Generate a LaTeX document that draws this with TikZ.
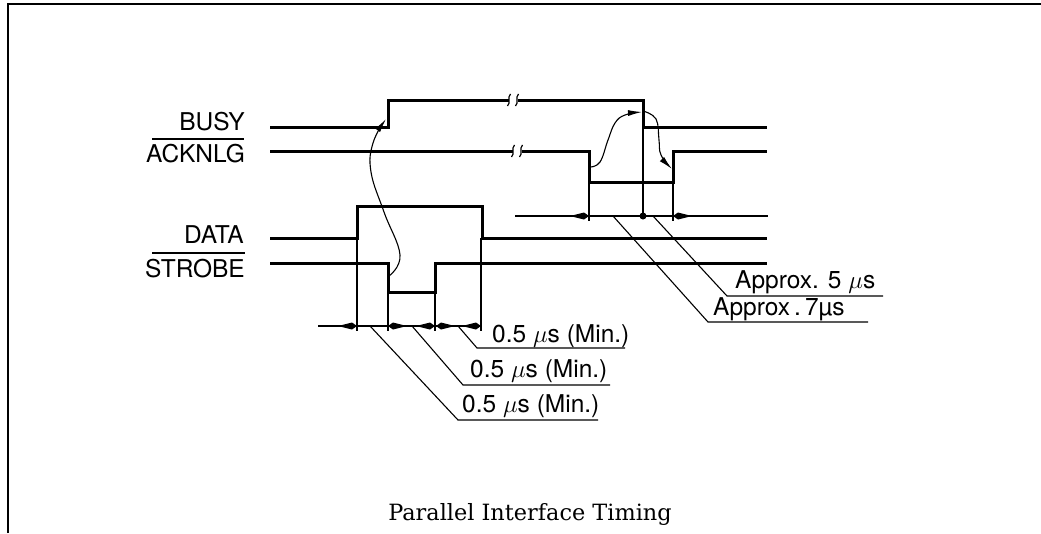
\documentclass[tikz,border=0pt]{standalone}
\usepackage{fontspec}
\setmainfont{TeX Gyre Heros}
\newfontfamily\titlefont{DejaVu Serif}
\usetikzlibrary{arrows.meta}
\begin{document}
\begin{tikzpicture}[x=1pt,y=-1pt,line join=miter,
  sig/.style={line width=3pt},
  fine/.style={line width=1.1pt},
  frame/.style={line width=1.5pt},
  curvearrow/.style={line width=1.1pt,-{Latex[length=14pt,width=6pt]}},
  headR/.pic={\fill (0,0) -- (-5,-3.5) -- (-19,0) -- (-5,3.5) -- cycle;},
  headL/.pic={\fill (0,0) -- (5,-3.5) -- (19,0) -- (5,3.5) -- cycle;},
  brk/.pic={\draw[line width=1.2pt] (1.5,-6) .. controls (-2.5,-2) and (2.5,2) .. (-1.5,6);},
  siglabel/.style={anchor=base east,inner sep=0pt,font=\fontsize{24.5}{27}\selectfont},
  dimlabel/.style={anchor=base west,inner sep=0pt,font=\fontsize{24.5}{27}\selectfont},
  title/.style={anchor=base,inner sep=0pt,font=\titlefont\fontsize{22.4}{26}\selectfont}]
\useasboundingbox (0,0) rectangle (1041,533);
% frame
\draw[frame] (8,533) -- (8,4) -- (1041,4);

% labels
\node[siglabel] (busy) at (245,130) {BUSY};
\node[siglabel] (ack) at (245,162) {ACKNLG};
\node[siglabel] (data) at (244,243) {DATA};
\node[siglabel] (strobe) at (245,277) {STROBE};
\draw[frame] (152,139) -- (244,139);
\draw[frame] (152,253) -- (245,253);

% BUSY
\draw[sig] (270,127) -- (388,127) -- (388,100) -- (509,100);
\draw[sig] (518,100) -- (643,100) -- (643,127) -- (767,127);
\pic at (509,100) {brk};
\pic at (517,100) {brk};
% ACKNLG
\draw[sig] (270,151) -- (513,151);
\draw[sig] (522,151) -- (589,151) -- (589,182) -- (673,182) -- (673,151) -- (767,151);
\pic at (513,151) {brk};
\pic at (521,151) {brk};
% DATA
\draw[sig] (270,238) -- (357,238) -- (357,206) -- (482,206) -- (482,238) -- (767,238);
% STROBE
\draw[sig] (270,263) -- (388,263) -- (388,292) -- (435,292) -- (435,263) -- (767,263);

% lower dimension
\draw[fine] (357,238) -- (357,331);
\draw[fine] (388,292) -- (388,331);
\draw[fine] (435,292) -- (435,331);
\draw[fine] (481,238) -- (481,331);
\draw[fine] (318,326) -- (481,326);
\pic at (357,326) {headR};
\pic at (388,326) {headL};
\pic at (435,326) {headR};
\pic at (436,326) {headL};
\pic at (481,326) {headR};

% upper dimension
\draw[fine] (589,182) -- (589,221);
\draw[fine] (643,127) -- (643,216);
\draw[fine] (673,182) -- (673,221);
\draw[fine] (515,216) -- (768,216);
\fill (643,216) circle (3.5);
\pic at (589,216) {headR};
\pic at (673,216) {headL};

% curved arrows
\draw[curvearrow] plot[smooth,tension=0.7] coordinates {(389,276) (400,255) (384,212) (371,172) (373,143) (386,119)};
\draw[curvearrow] plot[smooth,tension=0.7] coordinates {(590,167) (600,162) (608,140) (615,123) (625,115) (642,112)};
\draw[curvearrow] plot[smooth,tension=0.7] coordinates {(643,111) (656,119) (659,140) (661,155) (672,169)};

% leaders
\draw[fine] (370,326) -- (458,420) -- (598,420);
\draw[fine] (412,326) -- (463,385) -- (610,385);
\draw[fine] (458,326) -- (477,348) -- (625,348);
\draw[fine] (653,216) -- (727,296) -- (883,296);
\draw[fine] (613,216) -- (708,322) -- (868,322);

\node[dimlabel] (t1) at (492,342) {0.5 $\mu$s (Min.)};
\node[dimlabel] (t2) at (470,377) {0.5 $\mu$s (Min.)};
\node[dimlabel] (t3) at (462,412) {0.5 $\mu$s (Min.)};
\node[dimlabel] (t4) at (735,288) {Approx. 5 $\mu$s};
\node[dimlabel] (t5) at (713,315) {Approx\,.\,7µs};

\node[title] (ttl) at (530,520) {Parallel Interface Timing};
\end{tikzpicture}
\end{document}
